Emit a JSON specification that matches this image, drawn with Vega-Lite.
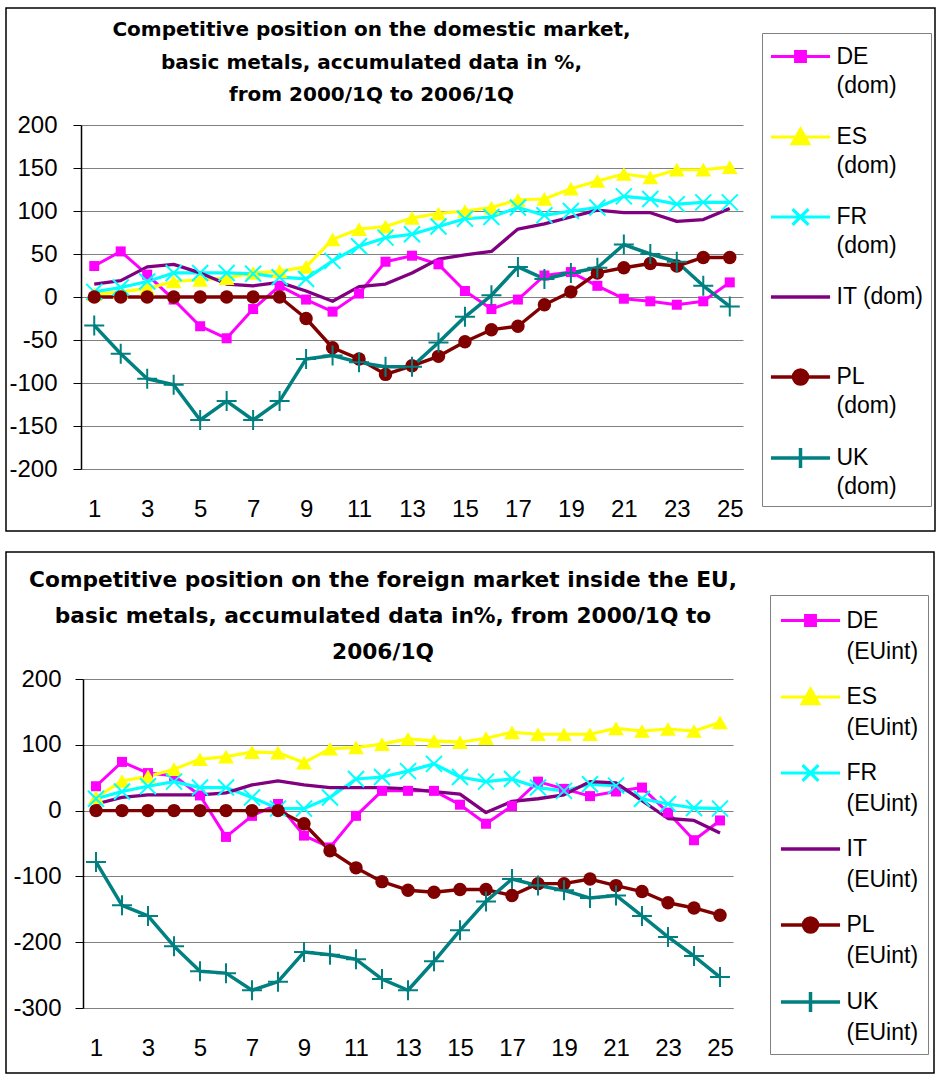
{
  "$schema": "https://vega.github.io/schema/vega-lite/v6.json",
  "background": "white",
  "padding": {"left": 5, "top": 7, "right": 2, "bottom": 5},
  "spacing": 19,
  "config": {
    "view": {"stroke": "black", "strokeWidth": 1.5},
    "font": "Liberation Sans",
    "axis": {"labelFont": "Liberation Sans", "labelFontSize": 24, "labelColor": "black", "title": null, "labelFlush": false, "labelOverlap": false}
  },
  "resolve": {"scale": {"color": "independent", "strokeWidth": "independent", "x": "independent", "y": "independent"}, "legend": {"color": "independent"}},
  "datasets": {
    "dom": [
      {"s":"DE (dom)","q":1,"v":36},{"s":"DE (dom)","q":2,"v":53},{"s":"DE (dom)","q":3,"v":26},{"s":"DE (dom)","q":4,"v":-3},{"s":"DE (dom)","q":5,"v":-34},{"s":"DE (dom)","q":6,"v":-48},{"s":"DE (dom)","q":7,"v":-14},{"s":"DE (dom)","q":8,"v":13},{"s":"DE (dom)","q":9,"v":-3},{"s":"DE (dom)","q":10,"v":-17},{"s":"DE (dom)","q":11,"v":4},{"s":"DE (dom)","q":12,"v":41},{"s":"DE (dom)","q":13,"v":48},{"s":"DE (dom)","q":14,"v":38},{"s":"DE (dom)","q":15,"v":7},{"s":"DE (dom)","q":16,"v":-14},{"s":"DE (dom)","q":17,"v":-3},{"s":"DE (dom)","q":18,"v":25},{"s":"DE (dom)","q":19,"v":29},{"s":"DE (dom)","q":20,"v":13},{"s":"DE (dom)","q":21,"v":-2},{"s":"DE (dom)","q":22,"v":-5},{"s":"DE (dom)","q":23,"v":-9},{"s":"DE (dom)","q":24,"v":-5},{"s":"DE (dom)","q":25,"v":17},
      {"s":"ES (dom)","q":1,"v":3},{"s":"ES (dom)","q":2,"v":6},{"s":"ES (dom)","q":3,"v":10},{"s":"ES (dom)","q":4,"v":18},{"s":"ES (dom)","q":5,"v":20},{"s":"ES (dom)","q":6,"v":22},{"s":"ES (dom)","q":7,"v":28},{"s":"ES (dom)","q":8,"v":30},{"s":"ES (dom)","q":9,"v":35},{"s":"ES (dom)","q":10,"v":67},{"s":"ES (dom)","q":11,"v":79},{"s":"ES (dom)","q":12,"v":82},{"s":"ES (dom)","q":13,"v":92},{"s":"ES (dom)","q":14,"v":97},{"s":"ES (dom)","q":15,"v":100},{"s":"ES (dom)","q":16,"v":104},{"s":"ES (dom)","q":17,"v":113},{"s":"ES (dom)","q":18,"v":114},{"s":"ES (dom)","q":19,"v":126},{"s":"ES (dom)","q":20,"v":135},{"s":"ES (dom)","q":21,"v":143},{"s":"ES (dom)","q":22,"v":139},{"s":"ES (dom)","q":23,"v":148},{"s":"ES (dom)","q":24,"v":148},{"s":"ES (dom)","q":25,"v":151},
      {"s":"FR (dom)","q":1,"v":6},{"s":"FR (dom)","q":2,"v":11},{"s":"FR (dom)","q":3,"v":18},{"s":"FR (dom)","q":4,"v":28},{"s":"FR (dom)","q":5,"v":28},{"s":"FR (dom)","q":6,"v":28},{"s":"FR (dom)","q":7,"v":27},{"s":"FR (dom)","q":8,"v":23},{"s":"FR (dom)","q":9,"v":21},{"s":"FR (dom)","q":10,"v":42},{"s":"FR (dom)","q":11,"v":59},{"s":"FR (dom)","q":12,"v":69},{"s":"FR (dom)","q":13,"v":73},{"s":"FR (dom)","q":14,"v":82},{"s":"FR (dom)","q":15,"v":91},{"s":"FR (dom)","q":16,"v":93},{"s":"FR (dom)","q":17,"v":104},{"s":"FR (dom)","q":18,"v":95},{"s":"FR (dom)","q":19,"v":100},{"s":"FR (dom)","q":20,"v":104},{"s":"FR (dom)","q":21,"v":117},{"s":"FR (dom)","q":22,"v":114},{"s":"FR (dom)","q":23,"v":108},{"s":"FR (dom)","q":24,"v":110},{"s":"FR (dom)","q":25,"v":110},
      {"s":"IT (dom)","q":1,"v":15},{"s":"IT (dom)","q":2,"v":19},{"s":"IT (dom)","q":3,"v":35},{"s":"IT (dom)","q":4,"v":38},{"s":"IT (dom)","q":5,"v":28},{"s":"IT (dom)","q":6,"v":15},{"s":"IT (dom)","q":7,"v":13},{"s":"IT (dom)","q":8,"v":17},{"s":"IT (dom)","q":9,"v":7},{"s":"IT (dom)","q":10,"v":-5},{"s":"IT (dom)","q":11,"v":12},{"s":"IT (dom)","q":12,"v":15},{"s":"IT (dom)","q":13,"v":28},{"s":"IT (dom)","q":14,"v":44},{"s":"IT (dom)","q":15,"v":49},{"s":"IT (dom)","q":16,"v":53},{"s":"IT (dom)","q":17,"v":79},{"s":"IT (dom)","q":18,"v":85},{"s":"IT (dom)","q":19,"v":93},{"s":"IT (dom)","q":20,"v":101},{"s":"IT (dom)","q":21,"v":98},{"s":"IT (dom)","q":22,"v":98},{"s":"IT (dom)","q":23,"v":88},{"s":"IT (dom)","q":24,"v":90},{"s":"IT (dom)","q":25,"v":103},
      {"s":"PL (dom)","q":1,"v":0},{"s":"PL (dom)","q":2,"v":0},{"s":"PL (dom)","q":3,"v":0},{"s":"PL (dom)","q":4,"v":0},{"s":"PL (dom)","q":5,"v":0},{"s":"PL (dom)","q":6,"v":0},{"s":"PL (dom)","q":7,"v":0},{"s":"PL (dom)","q":8,"v":0},{"s":"PL (dom)","q":9,"v":-25},{"s":"PL (dom)","q":10,"v":-59},{"s":"PL (dom)","q":11,"v":-72},{"s":"PL (dom)","q":12,"v":-90},{"s":"PL (dom)","q":13,"v":-80},{"s":"PL (dom)","q":14,"v":-69},{"s":"PL (dom)","q":15,"v":-52},{"s":"PL (dom)","q":16,"v":-38},{"s":"PL (dom)","q":17,"v":-34},{"s":"PL (dom)","q":18,"v":-9},{"s":"PL (dom)","q":19,"v":6},{"s":"PL (dom)","q":20,"v":28},{"s":"PL (dom)","q":21,"v":34},{"s":"PL (dom)","q":22,"v":39},{"s":"PL (dom)","q":23,"v":36},{"s":"PL (dom)","q":24,"v":46},{"s":"PL (dom)","q":25,"v":46},
      {"s":"UK (dom)","q":1,"v":-33},{"s":"UK (dom)","q":2,"v":-66},{"s":"UK (dom)","q":3,"v":-95},{"s":"UK (dom)","q":4,"v":-102},{"s":"UK (dom)","q":5,"v":-143},{"s":"UK (dom)","q":6,"v":-121},{"s":"UK (dom)","q":7,"v":-143},{"s":"UK (dom)","q":8,"v":-121},{"s":"UK (dom)","q":9,"v":-72},{"s":"UK (dom)","q":10,"v":-68},{"s":"UK (dom)","q":11,"v":-76},{"s":"UK (dom)","q":12,"v":-81},{"s":"UK (dom)","q":13,"v":-81},{"s":"UK (dom)","q":14,"v":-53},{"s":"UK (dom)","q":15,"v":-23},{"s":"UK (dom)","q":16,"v":2},{"s":"UK (dom)","q":17,"v":35},{"s":"UK (dom)","q":18,"v":21},{"s":"UK (dom)","q":19,"v":28},{"s":"UK (dom)","q":20,"v":34},{"s":"UK (dom)","q":21,"v":61},{"s":"UK (dom)","q":22,"v":50},{"s":"UK (dom)","q":23,"v":41},{"s":"UK (dom)","q":24,"v":13},{"s":"UK (dom)","q":25,"v":-11}
    ],
    "eu": [
      {"s":"DE (EUint)","q":1,"v":37},{"s":"DE (EUint)","q":2,"v":74},{"s":"DE (EUint)","q":3,"v":57},{"s":"DE (EUint)","q":4,"v":53},{"s":"DE (EUint)","q":5,"v":23},{"s":"DE (EUint)","q":6,"v":-40},{"s":"DE (EUint)","q":7,"v":-8},{"s":"DE (EUint)","q":8,"v":10},{"s":"DE (EUint)","q":9,"v":-38},{"s":"DE (EUint)","q":10,"v":-56},{"s":"DE (EUint)","q":11,"v":-8},{"s":"DE (EUint)","q":12,"v":30},{"s":"DE (EUint)","q":13,"v":30},{"s":"DE (EUint)","q":14,"v":30},{"s":"DE (EUint)","q":15,"v":9},{"s":"DE (EUint)","q":16,"v":-20},{"s":"DE (EUint)","q":17,"v":7},{"s":"DE (EUint)","q":18,"v":44},{"s":"DE (EUint)","q":19,"v":33},{"s":"DE (EUint)","q":20,"v":22},{"s":"DE (EUint)","q":21,"v":29},{"s":"DE (EUint)","q":22,"v":35},{"s":"DE (EUint)","q":23,"v":-3},{"s":"DE (EUint)","q":24,"v":-45},{"s":"DE (EUint)","q":25,"v":-15},
      {"s":"ES (EUint)","q":1,"v":20},{"s":"ES (EUint)","q":2,"v":45},{"s":"ES (EUint)","q":3,"v":52},{"s":"ES (EUint)","q":4,"v":63},{"s":"ES (EUint)","q":5,"v":78},{"s":"ES (EUint)","q":6,"v":82},{"s":"ES (EUint)","q":7,"v":89},{"s":"ES (EUint)","q":8,"v":88},{"s":"ES (EUint)","q":9,"v":73},{"s":"ES (EUint)","q":10,"v":94},{"s":"ES (EUint)","q":11,"v":96},{"s":"ES (EUint)","q":12,"v":101},{"s":"ES (EUint)","q":13,"v":109},{"s":"ES (EUint)","q":14,"v":106},{"s":"ES (EUint)","q":15,"v":104},{"s":"ES (EUint)","q":16,"v":110},{"s":"ES (EUint)","q":17,"v":119},{"s":"ES (EUint)","q":18,"v":116},{"s":"ES (EUint)","q":19,"v":116},{"s":"ES (EUint)","q":20,"v":116},{"s":"ES (EUint)","q":21,"v":125},{"s":"ES (EUint)","q":22,"v":121},{"s":"ES (EUint)","q":23,"v":124},{"s":"ES (EUint)","q":24,"v":121},{"s":"ES (EUint)","q":25,"v":134},
      {"s":"FR (EUint)","q":1,"v":18},{"s":"FR (EUint)","q":2,"v":29},{"s":"FR (EUint)","q":3,"v":37},{"s":"FR (EUint)","q":4,"v":44},{"s":"FR (EUint)","q":5,"v":35},{"s":"FR (EUint)","q":6,"v":35},{"s":"FR (EUint)","q":7,"v":20},{"s":"FR (EUint)","q":8,"v":3},{"s":"FR (EUint)","q":9,"v":3},{"s":"FR (EUint)","q":10,"v":20},{"s":"FR (EUint)","q":11,"v":48},{"s":"FR (EUint)","q":12,"v":51},{"s":"FR (EUint)","q":13,"v":60},{"s":"FR (EUint)","q":14,"v":71},{"s":"FR (EUint)","q":15,"v":51},{"s":"FR (EUint)","q":16,"v":44},{"s":"FR (EUint)","q":17,"v":48},{"s":"FR (EUint)","q":18,"v":35},{"s":"FR (EUint)","q":19,"v":30},{"s":"FR (EUint)","q":20,"v":40},{"s":"FR (EUint)","q":21,"v":38},{"s":"FR (EUint)","q":22,"v":18},{"s":"FR (EUint)","q":23,"v":10},{"s":"FR (EUint)","q":24,"v":4},{"s":"FR (EUint)","q":25,"v":3},
      {"s":"IT (EUint)","q":1,"v":10},{"s":"IT (EUint)","q":2,"v":20},{"s":"IT (EUint)","q":3,"v":24},{"s":"IT (EUint)","q":4,"v":24},{"s":"IT (EUint)","q":5,"v":24},{"s":"IT (EUint)","q":6,"v":27},{"s":"IT (EUint)","q":7,"v":39},{"s":"IT (EUint)","q":8,"v":45},{"s":"IT (EUint)","q":9,"v":39},{"s":"IT (EUint)","q":10,"v":35},{"s":"IT (EUint)","q":11,"v":35},{"s":"IT (EUint)","q":12,"v":35},{"s":"IT (EUint)","q":13,"v":33},{"s":"IT (EUint)","q":14,"v":29},{"s":"IT (EUint)","q":15,"v":25},{"s":"IT (EUint)","q":16,"v":-3},{"s":"IT (EUint)","q":17,"v":14},{"s":"IT (EUint)","q":18,"v":18},{"s":"IT (EUint)","q":19,"v":24},{"s":"IT (EUint)","q":20,"v":44},{"s":"IT (EUint)","q":21,"v":42},{"s":"IT (EUint)","q":22,"v":15},{"s":"IT (EUint)","q":23,"v":-12},{"s":"IT (EUint)","q":24,"v":-15},{"s":"IT (EUint)","q":25,"v":-34},
      {"s":"PL (EUint)","q":1,"v":0},{"s":"PL (EUint)","q":2,"v":0},{"s":"PL (EUint)","q":3,"v":0},{"s":"PL (EUint)","q":4,"v":0},{"s":"PL (EUint)","q":5,"v":0},{"s":"PL (EUint)","q":6,"v":0},{"s":"PL (EUint)","q":7,"v":0},{"s":"PL (EUint)","q":8,"v":0},{"s":"PL (EUint)","q":9,"v":-20},{"s":"PL (EUint)","q":10,"v":-61},{"s":"PL (EUint)","q":11,"v":-87},{"s":"PL (EUint)","q":12,"v":-108},{"s":"PL (EUint)","q":13,"v":-121},{"s":"PL (EUint)","q":14,"v":-124},{"s":"PL (EUint)","q":15,"v":-120},{"s":"PL (EUint)","q":16,"v":-120},{"s":"PL (EUint)","q":17,"v":-129},{"s":"PL (EUint)","q":18,"v":-111},{"s":"PL (EUint)","q":19,"v":-111},{"s":"PL (EUint)","q":20,"v":-104},{"s":"PL (EUint)","q":21,"v":-114},{"s":"PL (EUint)","q":22,"v":-123},{"s":"PL (EUint)","q":23,"v":-140},{"s":"PL (EUint)","q":24,"v":-148},{"s":"PL (EUint)","q":25,"v":-159},
      {"s":"UK (EUint)","q":1,"v":-78},{"s":"UK (EUint)","q":2,"v":-144},{"s":"UK (EUint)","q":3,"v":-160},{"s":"UK (EUint)","q":4,"v":-206},{"s":"UK (EUint)","q":5,"v":-244},{"s":"UK (EUint)","q":6,"v":-247},{"s":"UK (EUint)","q":7,"v":-273},{"s":"UK (EUint)","q":8,"v":-260},{"s":"UK (EUint)","q":9,"v":-215},{"s":"UK (EUint)","q":10,"v":-219},{"s":"UK (EUint)","q":11,"v":-226},{"s":"UK (EUint)","q":12,"v":-256},{"s":"UK (EUint)","q":13,"v":-273},{"s":"UK (EUint)","q":14,"v":-229},{"s":"UK (EUint)","q":15,"v":-182},{"s":"UK (EUint)","q":16,"v":-138},{"s":"UK (EUint)","q":17,"v":-104},{"s":"UK (EUint)","q":18,"v":-114},{"s":"UK (EUint)","q":19,"v":-121},{"s":"UK (EUint)","q":20,"v":-133},{"s":"UK (EUint)","q":21,"v":-129},{"s":"UK (EUint)","q":22,"v":-160},{"s":"UK (EUint)","q":23,"v":-192},{"s":"UK (EUint)","q":24,"v":-221},{"s":"UK (EUint)","q":25,"v":-253}
    ]
  },
  "vconcat": [
    {
      "width": 929,
      "height": 523,
      "title": {
        "text": ["Competitive position on the domestic market,", "basic metals, accumulated data in %,", "from 2000/1Q to 2006/1Q"],
        "orient": "top", "anchor": "middle", "frame": "group", "baseline": "top", "offset": -97, "dx": -99,
        "font": "DejaVu Sans", "fontSize": 20, "fontWeight": "bold", "lineHeight": 32.5, "color": "black"
      },
      "data": {"name": "dom"},
      "encoding": {
        "x": {"field": "q", "type": "quantitative", "scale": {"domain": [0.5, 25.5], "range": [75, 737], "nice": false, "zero": false},
          "axis": {"orient": "bottom", "offset": -62, "values": [1,3,5,7,9,11,13,15,17,19,21,23,25], "format": "d", "grid": false, "ticks": false, "tickSize": 0, "domainColor": "#808080", "domainWidth": 1, "labelPadding": 28}},
        "y": {"field": "v", "type": "quantitative", "scale": {"domain": [-200, 200], "range": [461, 117], "nice": false, "zero": false},
          "axis": {"orient": "left", "offset": -75, "values": [-200,-150,-100,-50,0,50,100,150,200], "labelExpr": "(datum.value < 0 ? '-' : '') + abs(datum.value)", "grid": true, "gridColor": "#808080", "gridWidth": 1, "domainColor": "black", "domainWidth": 1.5, "tickColor": "black", "tickSize": 8, "labelPadding": 16}}
      },
      "layer": [
        {
          "data": {"values": [{}]},
          "mark": {"type": "rule", "color": "#808080", "strokeWidth": 1},
          "encoding": {"x": {"datum": 25.5}, "y": {"datum": -200}, "y2": {"datum": 200}}
        },
        {
          "mark": {"type": "line", "strokeJoin": "round"},
          "encoding": {
            "color": {"field": "s", "type": "nominal",
              "scale": {"domain": ["DE (dom)","ES (dom)","FR (dom)","IT (dom)","PL (dom)","UK (dom)"], "range": ["#ff00ff","#ffff00","#00ffff","#800080","#800000","#008080"]},
              "legend": {
                "title": null, "orient": "none", "legendX": 756, "legendY": 25,
                "padding": 7, "strokeColor": "#808080", "fillColor": "white",
                "labelFont": "Liberation Sans", "labelFontSize": 23, "labelColor": "black", "labelLimit": 300,
                "labelOffset": 19, "symbolOffset": 14.5, "symbolSize": 900, "symbolStrokeWidth": 3, "rowPadding": 22, "labelBaseline": "middle",
                "labelExpr": "datum.label == 'IT (dom)' ? ['IT (dom)', ' '] : split(datum.label, ' ')",
                "encode": {
                  "symbols": {"update": {
                    "shape": {"signal": "substring(datum.value,0,2)=='DE'?'M-1.97,0L1.97,0M-0.33,-0.33L0.33,-0.33L0.33,0.33L-0.33,0.33Z':substring(datum.value,0,2)=='ES'?'M-1.97,0L1.97,0M0,-0.53L0.55,0.45L-0.55,0.45Z':substring(datum.value,0,2)=='FR'?'M-1.97,0L1.97,0M-0.53,-0.53L0.53,0.53M-0.53,0.53L0.53,-0.53':substring(datum.value,0,2)=='PL'?'M-1.97,0L1.97,0M-0.47,0A0.47,0.47,0,1,1,0.47,0A0.47,0.47,0,1,1,-0.47,0Z':substring(datum.value,0,2)=='UK'?'M-1.97,0L1.97,0M0,-0.67L0,0.67':'M-1.97,0L1.97,0'"},
                    "fill": {"signal": "substring(datum.value,0,2)=='DE'?'#ff00ff':substring(datum.value,0,2)=='ES'?'#ffff00':substring(datum.value,0,2)=='PL'?'#800000':'transparent'"},
                    "strokeWidth": {"value": 3},
                    "opacity": {"value": 1}
                  }},
                  "labels": {"update": {"lineHeight": {"value": 29}}}
                }
              }},
            "strokeWidth": {"field": "s", "type": "nominal", "legend": null,
              "scale": {"domain": ["DE (dom)","ES (dom)","FR (dom)","IT (dom)","PL (dom)","UK (dom)"], "range": [3, 3.5, 3.5, 2.5, 2.5, 3]}}
          }
        },
        {"transform": [{"filter": {"field": "s", "equal": "DE (dom)"}}], "mark": {"type": "point", "shape": "square", "filled": true, "size": 100, "color": "#ff00ff", "opacity": 1}},
        {"transform": [{"filter": {"field": "s", "equal": "ES (dom)"}}], "mark": {"type": "point", "shape": "triangle-up", "filled": true, "size": 250, "color": "#ffff00", "opacity": 1}},
        {"transform": [{"filter": {"field": "s", "equal": "FR (dom)"}}], "mark": {"type": "point", "shape": "M-1,-1L1,1M-1,1L1,-1", "filled": false, "size": 256, "color": "#00ffff", "strokeWidth": 2, "opacity": 1}},
        {"transform": [{"filter": {"field": "s", "equal": "PL (dom)"}}], "mark": {"type": "point", "shape": "circle", "filled": true, "size": 180, "color": "#800000", "opacity": 1}},
        {"transform": [{"filter": {"field": "s", "equal": "UK (dom)"}}], "mark": {"type": "point", "shape": "M-1,0L1,0M0,-1L0,1", "filled": false, "size": 400, "color": "#008080", "strokeWidth": 2, "opacity": 1}}
      ]
    },
    {
      "width": 928,
      "height": 521,
      "title": {
        "text": ["Competitive position on the foreign market inside the EU,", "basic metals, accumulated data in%, from 2000/1Q to", "2006/1Q"],
        "orient": "top", "anchor": "middle", "frame": "group", "baseline": "top", "offset": -112, "dx": -87,
        "font": "DejaVu Sans", "fontSize": 21.7, "fontWeight": "bold", "lineHeight": 36, "color": "black"
      },
      "data": {"name": "eu"},
      "encoding": {
        "x": {"field": "q", "type": "quantitative", "scale": {"domain": [0.5, 25.5], "range": [77, 727], "nice": false, "zero": false},
          "axis": {"orient": "bottom", "offset": -65, "values": [1,3,5,7,9,11,13,15,17,19,21,23,25], "format": "d", "grid": false, "ticks": false, "tickSize": 0, "domainColor": "#808080", "domainWidth": 1, "labelPadding": 28}},
        "y": {"field": "v", "type": "quantitative", "scale": {"domain": [-300, 200], "range": [456, 127], "nice": false, "zero": false},
          "axis": {"orient": "left", "offset": -77, "values": [-300,-200,-100,0,100,200], "labelExpr": "(datum.value < 0 ? '-' : '') + abs(datum.value)", "grid": true, "gridColor": "#808080", "gridWidth": 1, "domainColor": "black", "domainWidth": 1.5, "tickColor": "black", "tickSize": 8, "labelPadding": 14}}
      },
      "layer": [
        {
          "data": {"values": [{}]},
          "mark": {"type": "rule", "color": "#808080", "strokeWidth": 1},
          "encoding": {"x": {"datum": 25.5}, "y": {"datum": -300}, "y2": {"datum": 200}}
        },
        {
          "mark": {"type": "line", "strokeJoin": "round"},
          "encoding": {
            "color": {"field": "s", "type": "nominal",
              "scale": {"domain": ["DE (EUint)","ES (EUint)","FR (EUint)","IT (EUint)","PL (EUint)","UK (EUint)"], "range": ["#ff00ff","#ffff00","#00ffff","#800080","#800000","#008080"]},
              "legend": {
                "title": null, "orient": "none", "legendX": 764, "legendY": 43,
                "padding": 9, "strokeColor": "#808080", "fillColor": "white",
                "labelFont": "Liberation Sans", "labelFontSize": 23, "labelColor": "black", "labelLimit": 300,
                "labelOffset": 19, "symbolOffset": 14.5, "symbolSize": 900, "symbolStrokeWidth": 3, "rowPadding": 16, "labelBaseline": "middle",
                "labelExpr": "split(datum.label, ' ')",
                "encode": {
                  "symbols": {"update": {
                    "shape": {"signal": "substring(datum.value,0,2)=='DE'?'M-1.97,0L1.97,0M-0.33,-0.33L0.33,-0.33L0.33,0.33L-0.33,0.33Z':substring(datum.value,0,2)=='ES'?'M-1.97,0L1.97,0M0,-0.53L0.55,0.45L-0.55,0.45Z':substring(datum.value,0,2)=='FR'?'M-1.97,0L1.97,0M-0.53,-0.53L0.53,0.53M-0.53,0.53L0.53,-0.53':substring(datum.value,0,2)=='PL'?'M-1.97,0L1.97,0M-0.47,0A0.47,0.47,0,1,1,0.47,0A0.47,0.47,0,1,1,-0.47,0Z':substring(datum.value,0,2)=='UK'?'M-1.97,0L1.97,0M0,-0.67L0,0.67':'M-1.97,0L1.97,0'"},
                    "fill": {"signal": "substring(datum.value,0,2)=='DE'?'#ff00ff':substring(datum.value,0,2)=='ES'?'#ffff00':substring(datum.value,0,2)=='PL'?'#800000':'transparent'"},
                    "strokeWidth": {"value": 3},
                    "opacity": {"value": 1}
                  }},
                  "labels": {"update": {"lineHeight": {"value": 31}}}
                }
              }},
            "strokeWidth": {"field": "s", "type": "nominal", "legend": null,
              "scale": {"domain": ["DE (EUint)","ES (EUint)","FR (EUint)","IT (EUint)","PL (EUint)","UK (EUint)"], "range": [3, 3.5, 3.5, 2.5, 2.5, 3]}}
          }
        },
        {"transform": [{"filter": {"field": "s", "equal": "DE (EUint)"}}], "mark": {"type": "point", "shape": "square", "filled": true, "size": 100, "color": "#ff00ff", "opacity": 1}},
        {"transform": [{"filter": {"field": "s", "equal": "ES (EUint)"}}], "mark": {"type": "point", "shape": "triangle-up", "filled": true, "size": 250, "color": "#ffff00", "opacity": 1}},
        {"transform": [{"filter": {"field": "s", "equal": "FR (EUint)"}}], "mark": {"type": "point", "shape": "M-1,-1L1,1M-1,1L1,-1", "filled": false, "size": 256, "color": "#00ffff", "strokeWidth": 2, "opacity": 1}},
        {"transform": [{"filter": {"field": "s", "equal": "PL (EUint)"}}], "mark": {"type": "point", "shape": "circle", "filled": true, "size": 180, "color": "#800000", "opacity": 1}},
        {"transform": [{"filter": {"field": "s", "equal": "UK (EUint)"}}], "mark": {"type": "point", "shape": "M-1,0L1,0M0,-1L0,1", "filled": false, "size": 400, "color": "#008080", "strokeWidth": 2, "opacity": 1}}
      ]
    }
  ]
}
